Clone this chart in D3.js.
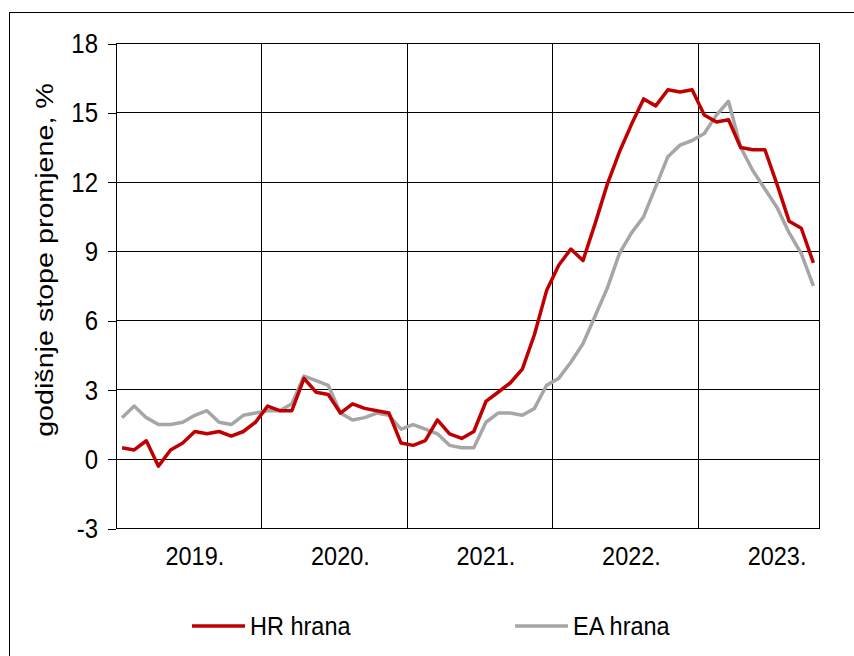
<!DOCTYPE html>
<html>
<head>
<meta charset="utf-8">
<script src="https://cdn.jsdelivr.net/npm/d3@7"></script>
<style>
  html, body { margin: 0; padding: 0; background: #fff; }
  svg { display: block; font-family: 'Liberation Sans', Arial, sans-serif; }
</style>
</head>
<body>
<svg id="chart" width="854" height="656"></svg>
<script>
// years on the category axis (monthly data, Jan 2019 - Oct 2023)
const years = ['2019.', '2020.', '2021.', '2022.', '2023.'];
const monthsPerYear = [12, 12, 12, 12, 10];

// annual rates of change, %
const hrFood = [
  0.5, 0.4, 0.8, -0.3, 0.4, 0.7, 1.2, 1.1, 1.2, 1.0, 1.2, 1.6,
  2.3, 2.1, 2.1, 3.5, 2.9, 2.8, 2.0, 2.4, 2.2, 2.1, 2.0, 0.7,
  0.6, 0.8, 1.7, 1.1, 0.9, 1.2, 2.5, 2.9, 3.3, 3.9, 5.4, 7.3,
  8.4, 9.1, 8.6, 10.2, 11.9, 13.3, 14.5, 15.6, 15.3, 16.0, 15.9, 16.0,
  14.9, 14.6, 14.7, 13.5, 13.4, 13.4, 11.9, 10.3, 10.0, 8.5
];
const eaFood = [
  1.8, 2.3, 1.8, 1.5, 1.5, 1.6, 1.9, 2.1, 1.6, 1.5, 1.9, 2.0,
  2.1, 2.1, 2.4, 3.6, 3.4, 3.2, 2.0, 1.7, 1.8, 2.0, 1.9, 1.3,
  1.5, 1.3, 1.1, 0.6, 0.5, 0.5, 1.6, 2.0, 2.0, 1.9, 2.2, 3.2,
  3.5, 4.2, 5.0, 6.2, 7.4, 8.9, 9.8, 10.5, 11.8, 13.1, 13.6, 13.8,
  14.1, 14.9, 15.5, 13.5, 12.5, 11.7, 10.9, 9.8, 8.9, 7.5
];
const yTicks = [-3, 0, 3, 6, 9, 12, 15, 18];

const series = [
  { name: 'HR hrana', values: hrFood, color: '#c00000' },
  { name: 'EA hrana', values: eaFood, color: '#a6a6a6' }
];

const svg = d3.select('#chart');
const plot = { left: 116, right: 819.5, top: 43.5, bottom: 528.5 };
const stretch = 1.12; // text in the reference is a bit taller than wide

// outer frame
svg.append('rect')
  .attr('x', 9.5).attr('y', 12.5)
  .attr('width', 900).attr('height', 700)
  .attr('fill', 'none').attr('stroke', '#000').attr('stroke-width', 1);

const nCat = d3.sum(monthsPerYear);
const x = d3.scaleLinear().domain([0, nCat]).range([plot.left, plot.right]);
const y = d3.scaleLinear().domain([-3, 18]).range([plot.bottom, plot.top]);

// year boundaries and label positions (label sits on the 7th month)
const yearStart = Array.from(d3.cumsum([0, ...monthsPerYear])).slice(0, years.length);

const grid = svg.append('g').attr('shape-rendering', 'crispEdges');

grid.selectAll('line.h')
  .data(yTicks)
  .join('line')
  .attr('class', 'h')
  .attr('x1', plot.left).attr('x2', plot.right)
  .attr('y1', d => y(d)).attr('y2', d => y(d))
  .attr('stroke', '#000').attr('stroke-width', 1);

grid.selectAll('line.v')
  .data(yearStart.slice(1).concat([nCat]))
  .join('line')
  .attr('class', 'v')
  .attr('x1', d => x(d)).attr('x2', d => x(d))
  .attr('y1', plot.top).attr('y2', plot.bottom)
  .attr('stroke', '#000').attr('stroke-width', 1);

// y axis (plain hyphen for negatives, like the source)
const gy = svg.append('g')
  .attr('transform', `translate(${plot.left},0)`)
  .call(d3.axisLeft(y).tickValues(yTicks).tickFormat(d => String(d))
    .tickSize(8).tickPadding(10).tickSizeOuter(0));
gy.select('.domain').attr('stroke', '#000').attr('shape-rendering', 'crispEdges');
gy.selectAll('.tick line').attr('stroke', '#000').attr('shape-rendering', 'crispEdges');
gy.selectAll('.tick text')
  .attr('font-size', 24)
  .attr('fill', '#000')
  .attr('font-family', "'Liberation Sans', Arial, sans-serif")
  .attr('dy', '0.34em')
  .attr('transform', `scale(1,${stretch})`);

// bottom axis line
svg.append('line')
  .attr('x1', plot.left).attr('x2', plot.right)
  .attr('y1', plot.bottom).attr('y2', plot.bottom)
  .attr('stroke', '#000').attr('shape-rendering', 'crispEdges');

// x labels
svg.selectAll('text.year')
  .data(years)
  .join('text')
  .attr('class', 'year')
  .attr('text-anchor', 'middle')
  .attr('font-size', 23.5)
  .attr('transform', (d, i) => `translate(${x(yearStart[i] + 6.5)},565) scale(1,${stretch})`)
  .text(d => d);

// y axis title
svg.append('text')
  .attr('text-anchor', 'middle')
  .attr('font-size', 24.5)
  .attr('transform', `translate(53,260) scale(1,1.17) rotate(-90)`)
  .text('godišnje stope promjene, %');

// lines
const line = d3.line()
  .x((d, i) => x(i + 0.5))
  .y(d => y(d));

svg.append('g')
  .selectAll('path')
  .data(series.slice().reverse())
  .join('path')
  .attr('d', d => line(d.values))
  .attr('fill', 'none')
  .attr('stroke', d => d.color)
  .attr('stroke-width', 3.5)
  .attr('stroke-linejoin', 'round');

// legend
const legendX = [192, 515];
const legend = svg.append('g')
  .selectAll('g')
  .data(series)
  .join('g')
  .attr('transform', (d, i) => `translate(${legendX[i]},626)`);

legend.append('line')
  .attr('x1', 0).attr('x2', 53)
  .attr('stroke', d => d.color)
  .attr('stroke-width', 3.5);

legend.append('text')
  .attr('font-size', 23.5)
  .attr('transform', `translate(58,9) scale(1,${stretch})`)
  .text(d => d.name);
</script>
</body>
</html>
